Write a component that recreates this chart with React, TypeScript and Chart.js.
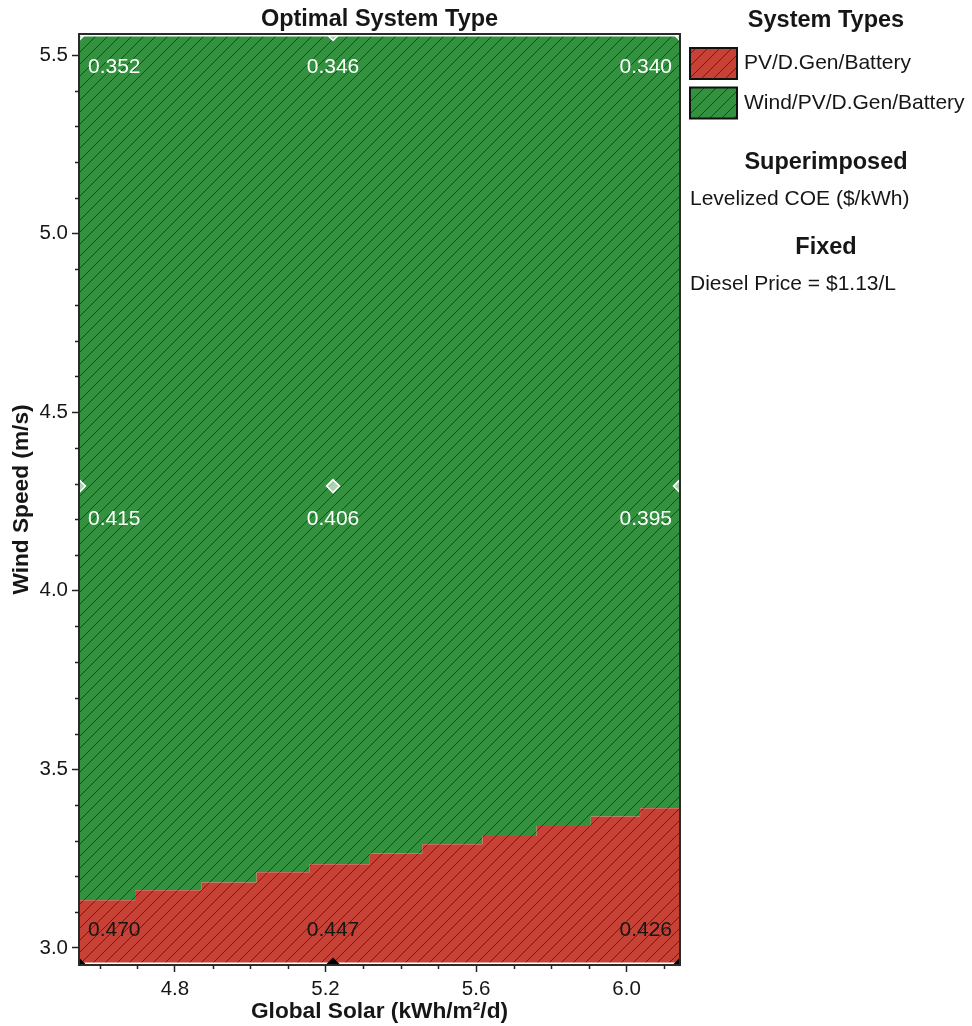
import React, { useEffect, useRef } from "react";
import { Chart, registerables } from "chart.js";
Chart.register(...registerables);

// ---- data ----
const SOLAR = [4.545, 5.22, 6.142]; // kWh/m²/d sensitivity values
const WIND = [2.952, 4.293, 5.559]; // m/s sensitivity values
const COE_BOTTOM = [0.47, 0.447, 0.426]; // at WIND[0]
const COE_MID = [0.415, 0.406, 0.395]; // at WIND[1]
const COE_TOP = [0.352, 0.346, 0.34]; // at WIND[2]
const COE_BY_WIND = [COE_BOTTOM, COE_MID, COE_TOP];
// boundary between PV/D.Gen/Battery (below) and Wind/PV/D.Gen/Battery (above)
const BOUNDARY_SOLAR = [4.545, 4.694, 4.87, 5.017, 5.158, 5.318, 5.457, 5.617, 5.761, 5.905, 6.036, 6.142];
const BOUNDARY_WIND = [3.133, 3.161, 3.183, 3.212, 3.234, 3.264, 3.29, 3.313, 3.341, 3.368, 3.391, 3.391];
const X_TICKS = [4.8, 5.2, 5.6, 6.0];
const X_MINOR = [4.6, 4.7, 4.9, 5.0, 5.1, 5.3, 5.4, 5.5, 5.7, 5.8, 5.9, 6.1];
const Y_TICKS = [3.0, 3.5, 4.0, 4.5, 5.0, 5.5];
const Y_MINOR = [3.1, 3.2, 3.3, 3.4, 3.6, 3.7, 3.8, 3.9, 4.1, 4.2, 4.3, 4.4, 4.6, 4.7, 4.8, 4.9, 5.1, 5.2, 5.3, 5.4];
const SYSTEM_TYPES = ["PV/D.Gen/Battery", "Wind/PV/D.Gen/Battery"];
const TITLE = "Optimal System Type";
const X_TITLE = "Global Solar (kWh/m²/d)";
const Y_TITLE = "Wind Speed (m/s)";
const SUPERIMPOSED = "Levelized COE ($/kWh)";
const FIXED = "Diesel Price = $1.13/L";

const FONT = "'Liberation Sans', Arial, Helvetica, sans-serif";
const RED = "rgb(198,66,55)";
const GREEN = "rgb(52,145,64)";
const HATCH_LINE = "rgba(0,0,0,0.5)";
const TEXT = "#161616";

function boundaryAt(s: number) {
  let v = BOUNDARY_WIND[0];
  for (let i = 0; i < BOUNDARY_SOLAR.length; i++) if (BOUNDARY_SOLAR[i] <= s + 1e-9) v = BOUNDARY_WIND[i];
  return v;
}

function hatch(color: string) {
  const s = 12;
  const c = document.createElement("canvas");
  c.width = s;
  c.height = s;
  const g = c.getContext("2d")!;
  g.fillStyle = color;
  g.fillRect(0, 0, s, s);
  g.strokeStyle = HATCH_LINE;
  g.lineWidth = 1;
  g.beginPath();
  g.moveTo(-2, s + 2);
  g.lineTo(s + 2, -2);
  g.moveTo(-2, 2);
  g.lineTo(2, -2);
  g.moveTo(s - 2, s + 2);
  g.lineTo(s + 2, s - 2);
  g.stroke();
  return g.createPattern(c, "repeat")!;
}

export default function App() {
  const ref = useRef<HTMLCanvasElement>(null);
  useEffect(() => {
    const canvas = ref.current!;
    const redP = hatch(RED);
    const greenP = hatch(GREEN);
    const patterns = [redP, greenP];

    const boundary = BOUNDARY_SOLAR.map((x, i) => ({ x, y: BOUNDARY_WIND[i] }));
    const markers: { x: number; y: number }[] = [];
    const mFill: string[] = [];
    const mBorder: string[] = [];
    WIND.forEach((w) =>
      SOLAR.forEach((s) => {
        markers.push({ x: s, y: w });
        const red = w <= boundaryAt(s);
        mFill.push(red ? "#000" : "rgba(255,255,255,0.6)");
        mBorder.push(red ? "#000" : "#fff");
      })
    );

    const decor = {
      id: "decor",
      beforeDatasetDraw(chart: any, args: any) {
        if (args.index !== 0) return;
        const { ctx, chartArea: a } = chart;
        ctx.save();
        ctx.strokeStyle = "#ffffff";
        ctx.lineWidth = 1.5;
        ctx.beginPath();
        ctx.moveTo(a.left, a.top + 1.75);
        ctx.lineTo(a.right, a.top + 1.75);
        ctx.moveTo(a.left, a.bottom - 1.75);
        ctx.lineTo(a.right, a.bottom - 1.75);
        ctx.stroke();
        ctx.restore();
      },
      afterDatasetsDraw(chart: any) {
        const { ctx, chartArea: a, scales } = chart;
        const xs = scales.x;
        const ys = scales.y;
        ctx.save();
        ctx.font = `21px ${FONT}`;
        ctx.textBaseline = "middle";
        WIND.forEach((w, r) => {
          const py = ys.getPixelForValue(w);
          const row = COE_BY_WIND[r];
          SOLAR.forEach((s, c) => {
            const px = xs.getPixelForValue(s);
            const red = w <= boundaryAt(s);
            ctx.fillStyle = red ? TEXT : "#ffffff";
            let tx = px;
            if (px - a.left < 5) {
              ctx.textAlign = "left";
              tx = px + 9;
            } else if (a.right - px < 5) {
              ctx.textAlign = "right";
              tx = px - 8;
            } else ctx.textAlign = "center";
            const ty = a.bottom - py < 5 ? py - 35 : py + 33;
            ctx.fillText(row[c].toFixed(3), tx, ty);
          });
        });
        ctx.restore();
      },
      afterDraw(chart: any) {
        const { ctx, chartArea: a, scales } = chart;
        const xs = scales.x;
        const ys = scales.y;
        ctx.save();
        // frame
        ctx.strokeStyle = "#2a2a2a";
        ctx.lineWidth = 2;
        ctx.strokeRect(a.left, a.top, a.right - a.left, a.bottom - a.top);
        // minor ticks
        ctx.strokeStyle = "#222";
        ctx.lineWidth = 1.5;
        ctx.beginPath();
        X_MINOR.forEach((v) => {
          const p = Math.round(xs.getPixelForValue(v)) + 0.5;
          ctx.moveTo(p, a.bottom);
          ctx.lineTo(p, a.bottom + 4);
        });
        Y_MINOR.forEach((v) => {
          const p = Math.round(ys.getPixelForValue(v)) + 0.5;
          ctx.moveTo(a.left, p);
          ctx.lineTo(a.left - 4, p);
        });
        ctx.stroke();

        ctx.fillStyle = TEXT;
        ctx.textBaseline = "middle";
        const cx = (a.left + a.right) / 2;
        // title
        ctx.textAlign = "center";
        ctx.font = `bold 23.5px ${FONT}`;
        ctx.fillText(TITLE, cx, 20);
        // axis titles
        ctx.font = `bold 22.7px ${FONT}`;
        ctx.fillText(X_TITLE, cx, 1012);
        ctx.save();
        ctx.translate(22, (a.top + a.bottom) / 2);
        ctx.rotate(-Math.PI / 2);
        ctx.fillText(Y_TITLE, 0, 0);
        ctx.restore();

        // legend
        const lx = 826;
        ctx.font = `bold 23.5px ${FONT}`;
        ctx.textAlign = "center";
        ctx.fillText("System Types", lx, 21);
        SYSTEM_TYPES.forEach((name, i) => {
          const y0 = 48 + i * 39.5;
          ctx.fillStyle = patterns[i];
          ctx.fillRect(690, y0, 47, 31);
          ctx.strokeStyle = "#111";
          ctx.lineWidth = 2;
          ctx.strokeRect(690, y0, 47, 31);
          ctx.fillStyle = TEXT;
          ctx.font = `21px ${FONT}`;
          ctx.textAlign = "left";
          ctx.fillText(name, 744, y0 + 15.5);
        });
        ctx.font = `bold 23.5px ${FONT}`;
        ctx.textAlign = "center";
        ctx.fillText("Superimposed", lx, 163);
        ctx.fillText("Fixed", lx, 248);
        ctx.font = `21px ${FONT}`;
        ctx.textAlign = "left";
        ctx.fillText(SUPERIMPOSED, 690, 199);
        ctx.fillText(FIXED, 690, 284);
        ctx.restore();
      },
    };

    const chart = new Chart(canvas, {
      type: "line",
      data: {
        datasets: [
          {
            label: "points",
            data: markers,
            showLine: false,
            pointStyle: "rectRot",
            pointRadius: 6.5,
            pointBackgroundColor: mFill,
            pointBorderColor: mBorder,
            pointBorderWidth: 1.5,
            clip: 0,
          } as any,
          {
            label: SYSTEM_TYPES[0],
            data: boundary,
            stepped: true,
            borderWidth: 0,
            pointRadius: 0,
            backgroundColor: redP,
            fill: "start",
          } as any,
          {
            label: SYSTEM_TYPES[1],
            data: boundary,
            stepped: true,
            borderWidth: 0,
            pointRadius: 0,
            backgroundColor: greenP,
            fill: "end",
          } as any,
        ],
      },
      options: {
        responsive: false,
        devicePixelRatio: 1,
        animation: false,
        layout: { padding: { left: 0, right: 292, top: 34, bottom: 0 } },
        plugins: {
          legend: { display: false },
          title: { display: false },
          tooltip: { enabled: false },
        },
        scales: {
          x: {
            type: "linear",
            min: SOLAR[0],
            max: SOLAR[SOLAR.length - 1],
            afterBuildTicks: (s: any) => {
              s.ticks = X_TICKS.map((v) => ({ value: v }));
            },
            afterFit: (s: any) => {
              s.height = 61;
            },
            ticks: {
              autoSkip: false,
              maxRotation: 0,
              padding: 5,
              color: TEXT,
              font: { family: FONT, size: 20.5 },
              callback: (v: any) => Number(v).toFixed(1),
            },
            grid: { drawOnChartArea: false, tickLength: 7, tickColor: "#222", tickWidth: 1.5 },
            border: { display: false },
          },
          y: {
            type: "linear",
            min: WIND[0],
            max: WIND[WIND.length - 1],
            afterBuildTicks: (s: any) => {
              s.ticks = Y_TICKS.map((v) => ({ value: v }));
            },
            afterFit: (s: any) => {
              s.width = 79;
            },
            ticks: {
              autoSkip: false,
              padding: 4,
              color: TEXT,
              font: { family: FONT, size: 20.5 },
              callback: (v: any) => Number(v).toFixed(1),
            },
            grid: { drawOnChartArea: false, tickLength: 7, tickColor: "#222", tickWidth: 1.5 },
            border: { display: false },
          },
        },
      },
      plugins: [decor as any],
    });
    return () => chart.destroy();
  }, []);
  return (
    <div style={{ position: "fixed", left: 0, top: 0, width: 972, height: 1026, background: "#fff" }}>
      <canvas ref={ref} width={972} height={1026} style={{ display: "block", width: 972, height: 1026 }} />
    </div>
  );
}
